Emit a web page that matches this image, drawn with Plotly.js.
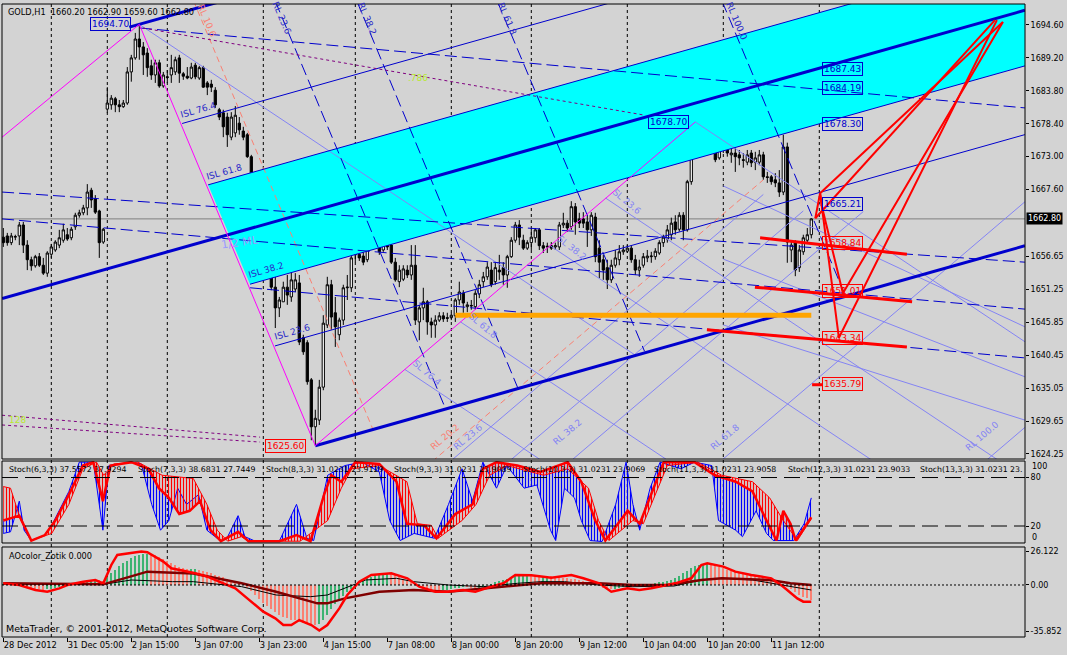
<!DOCTYPE html>
<html><head><meta charset="utf-8">
<script src="https://cdn.plot.ly/plotly-3.0.1.min.js"></script>
<style>html,body{margin:0;padding:0;background:#d3d3d3;}#chart{width:1067px;height:655px;}</style>
</head><body><div id="chart"></div>
<script>
// ---------- price data (GOLD H1), bar index 0..202 ----------
const open = [1659.8,1660.0,1658.9,1659.8,1660.0,1661.8,1658.5,1656.1,1655.1,1656.6,
1655.2,1653.9,1657.0,1657.7,1658.5,1659.3,1660.2,1659.7,1661.5,1663.4,
1663.8,1664.6,1667.5,1666.1,1664.1,1659.0,1680.8,1681.5,1682.5,1681.5,
1681.2,1681.8,1686.9,1689.2,1692.3,1691.0,1690.0,1687.9,1686.4,1688.4,
1684.6,1686.1,1686.4,1686.9,1689.2,1686.6,1686.2,1685.9,1688.0,1685.9,
1687.6,1685.1,1684.9,1683.9,1680.7,1680.2,1679.5,1676.2,1676.9,1678.5,
1677.2,1676.6,1673.0,1664.3,1664.6,1663.8,1663.3,1661.8,1651.6,1648.2,
1649.2,1651.6,1650.0,1651.3,1652.3,1643.3,1642.5,1636.4,1628.7,1629.8,
1635.2,1645.4,1652.0,1647.4,1643.8,1646.2,1651.5,1651.5,1656.9,1657.0,
1656.7,1656.1,1658.9,1661.3,1659.7,1657.7,1661.3,1658.5,1655.7,1652.5,
1652.9,1654.4,1653.6,1655.2,1645.9,1648.2,1649.2,1645.9,1645.4,1646.2,
1646.9,1646.6,1646.6,1646.9,1649.5,1650.6,1648.4,1648.5,1648.4,1650.5,
1652.5,1653.3,1654.4,1652.5,1654.4,1654.8,1653.6,1656.6,1659.3,1661.8,
1659.3,1658.0,1658.9,1659.7,1661.0,1658.4,1658.2,1658.4,1658.2,1658.2,
1661.8,1662.1,1661.5,1664.8,1662.8,1662.8,1662.3,1661.0,1663.1,1658.0,
1656.1,1654.8,1652.8,1655.2,1656.1,1657.4,1657.5,1658.0,1656.1,1654.4,
1655.2,1656.4,1656.6,1656.6,1657.2,1658.9,1659.5,1660.2,1662.3,1661.1,
1663.4,1661.0,1668.9,1674.6,1674.9,1676.2,1676.2,1677.9,1675.9,1672.8,
1674.9,1674.6,1673.3,1673.6,1673.3,1672.5,1672.1,1673.6,1672.1,1672.1,
1673.3,1669.7,1669.7,1669.2,1668.7,1667.2,1674.6,1657.7,1658.9,1654.8,
1657.4,1659.3,1660.2];
const high = [1661.3,1660.5,1660.5,1660.2,1662.3,1662.3,1659.3,1656.6,1656.9,1657.2,
1656.4,1657.5,1658.7,1659.3,1661.0,1662.0,1661.3,1661.5,1663.8,1664.3,
1665.1,1668.5,1667.9,1666.7,1664.3,1661.3,1684.4,1683.1,1682.8,1682.3,
1682.3,1687.7,1689.7,1693.3,1694.7,1691.8,1690.8,1688.9,1688.9,1688.9,
1686.9,1687.2,1689.7,1689.4,1689.7,1686.9,1687.7,1688.4,1688.4,1687.9,
1687.9,1685.4,1685.6,1684.4,1681.0,1680.7,1680.2,1680.3,1681.3,1679.5,
1677.9,1676.9,1673.3,1664.6,1664.9,1664.3,1663.9,1662.3,1653.6,1650.0,
1652.5,1653.6,1654.1,1653.9,1653.6,1643.8,1642.9,1636.7,1631.5,1636.4,
1647.0,1653.3,1652.8,1650.0,1646.6,1652.0,1653.6,1658.5,1657.7,1657.7,
1657.4,1660.7,1662.6,1662.6,1660.7,1661.8,1661.8,1659.0,1656.4,1655.2,
1655.2,1655.2,1658.5,1658.5,1648.7,1651.5,1649.5,1646.6,1647.0,1647.5,
1647.5,1647.4,1647.4,1649.8,1652.5,1651.1,1649.2,1649.5,1651.1,1652.8,
1654.1,1655.7,1655.7,1655.7,1656.9,1655.7,1656.9,1659.8,1662.3,1662.6,
1660.2,1659.3,1661.3,1661.3,1661.3,1659.0,1658.9,1659.0,1658.9,1662.3,
1663.8,1662.6,1665.7,1665.4,1663.8,1663.9,1663.4,1663.9,1663.8,1659.3,
1656.9,1656.1,1656.1,1657.7,1658.5,1658.5,1658.5,1658.5,1656.9,1656.1,
1657.2,1657.7,1657.4,1658.0,1659.3,1660.2,1661.8,1663.0,1663.4,1663.9,
1663.9,1669.2,1675.7,1678.7,1678.2,1678.2,1678.2,1678.4,1676.1,1676.1,
1675.7,1675.7,1674.4,1674.9,1674.1,1673.6,1674.1,1674.1,1673.8,1674.1,
1673.8,1670.5,1670.0,1670.3,1670.8,1676.6,1675.3,1659.3,1659.3,1658.5,
1660.2,1661.3,1662.9];
const low = [1658.2,1658.4,1658.5,1659.3,1658.5,1657.2,1654.4,1654.3,1654.8,1654.9,
1653.6,1653.3,1656.4,1657.4,1658.0,1658.9,1659.2,1659.3,1661.0,1663.0,
1663.4,1663.4,1664.6,1663.6,1656.4,1658.7,1680.2,1680.7,1680.3,1680.3,
1681.0,1681.5,1685.3,1688.9,1688.9,1686.4,1686.1,1685.6,1685.1,1684.3,
1684.3,1685.1,1685.1,1686.4,1685.1,1685.6,1685.7,1685.7,1685.7,1685.6,
1684.3,1683.1,1683.6,1681.0,1679.0,1676.2,1674.6,1675.7,1676.2,1676.6,
1675.7,1672.8,1661.3,1660.5,1663.0,1662.3,1661.3,1651.1,1644.9,1646.7,
1649.2,1648.7,1649.2,1650.8,1642.1,1640.5,1635.6,1626.5,1625.6,1629.0,
1634.7,1644.9,1644.6,1641.8,1642.9,1645.4,1649.5,1650.8,1655.7,1655.9,
1655.2,1655.7,1658.4,1658.5,1656.9,1657.4,1657.7,1655.4,1652.5,1651.6,
1652.6,1653.1,1652.8,1645.4,1642.9,1646.2,1643.8,1643.3,1643.3,1645.9,
1645.9,1645.9,1646.2,1645.9,1648.7,1647.4,1647.5,1647.9,1647.9,1649.8,
1651.6,1652.8,1651.6,1652.0,1652.8,1652.0,1651.5,1656.4,1658.9,1658.5,
1657.7,1657.7,1657.7,1658.9,1657.7,1657.2,1657.2,1657.7,1657.7,1657.7,
1661.3,1660.7,1661.0,1660.2,1661.3,1661.3,1658.2,1660.0,1655.7,1653.1,
1652.8,1651.3,1652.3,1654.8,1655.2,1656.9,1657.2,1655.6,1653.6,1653.3,
1654.8,1655.7,1655.6,1656.1,1656.9,1658.2,1658.9,1659.3,1660.2,1660.7,
1659.3,1660.7,1668.4,1674.1,1674.1,1675.7,1675.7,1674.9,1672.1,1672.5,
1673.6,1673.0,1672.0,1670.5,1671.6,1671.2,1671.6,1671.3,1670.8,1671.6,
1669.2,1668.7,1668.4,1668.0,1666.4,1666.7,1655.6,1655.7,1653.4,1654.1,
1656.9,1659.0,1659.6];
const close = [1658.9,1658.9,1660.0,1659.9,1661.8,1658.5,1656.1,1655.1,1656.6,1655.2,
1653.9,1657.2,1658.2,1659.0,1659.7,1661.0,1659.5,1661.1,1663.4,1663.8,
1664.6,1667.2,1665.9,1663.9,1658.9,1661.1,1681.8,1682.6,1681.5,1681.2,
1681.8,1686.9,1689.2,1692.3,1691.0,1689.7,1687.6,1686.4,1688.4,1684.6,
1686.4,1686.0,1687.6,1688.9,1686.7,1686.2,1685.9,1687.7,1686.1,1687.6,
1684.4,1684.4,1684.4,1681.5,1679.5,1677.9,1676.6,1679.5,1679.8,1677.4,
1676.2,1673.0,1664.3,1663.9,1663.4,1663.0,1661.8,1651.6,1648.2,1649.5,
1651.6,1650.3,1652.8,1652.8,1642.6,1641.0,1636.1,1628.7,1630.1,1635.2,
1645.7,1652.0,1646.7,1645.1,1646.2,1651.5,1651.6,1656.4,1657.0,1656.4,
1655.7,1658.9,1661.3,1659.7,1657.4,1661.0,1658.2,1655.7,1652.8,1654.4,
1654.6,1653.6,1655.2,1646.2,1648.2,1649.2,1645.9,1645.4,1646.2,1646.9,
1646.4,1646.5,1647.0,1649.5,1650.8,1649.0,1648.7,1648.6,1650.6,1652.0,
1653.3,1654.9,1652.0,1654.8,1654.1,1653.6,1656.6,1659.3,1661.8,1659.8,
1658.0,1658.9,1659.8,1661.0,1658.4,1658.0,1658.3,1658.0,1658.4,1661.8,
1662.1,1661.3,1664.8,1662.3,1662.1,1662.1,1661.0,1663.4,1656.6,1655.7,
1654.4,1652.8,1655.2,1656.4,1657.4,1657.7,1658.0,1656.1,1654.4,1654.9,
1656.6,1656.7,1656.7,1657.5,1658.9,1659.8,1661.0,1662.1,1661.0,1663.4,
1661.0,1668.9,1674.6,1676.6,1676.6,1676.6,1677.7,1675.4,1672.5,1675.3,
1674.1,1673.6,1673.6,1673.0,1672.8,1672.4,1673.3,1672.0,1672.8,1673.3,
1669.7,1669.6,1668.9,1668.7,1667.2,1674.6,1659.0,1658.5,1654.4,1657.7,
1659.7,1660.2,1662.8];

// ---------- axis labels ----------
const timeTickBars = [0,16,32,48,64,80,96,112,128,144,160,176,192];
const timeTickLabels = ['28 Dec 2012','31 Dec 05:00','2 Jan 15:00','3 Jan 07:00','3 Jan 23:00','4 Jan 15:00','7 Jan 08:00','8 Jan 00:00','8 Jan 20:00','9 Jan 12:00','10 Jan 04:00','10 Jan 20:00','11 Jan 12:00'];
const dayGridBars = [12,26,41,65,88,112,132,156,180,204];
const priceTicks = [1694.60,1689.20,1683.80,1678.40,1673.00,1667.60,1656.65,1651.25,1645.85,1640.45,1635.05,1629.65,1624.25];
const aoTicks = [26.122, 0, -35.852];
const aoTickLabels = ['26.122','0.00','-35.852'];

// ---------- drawn objects (bar index, price) ----------
const pitchfork = {
  median: [[-0.3,1649.75],[255.4,1697.01]],
  lower:  [[78,1625.6],[255.4,1658.39]],
  upper:  [[31.5,1694.24],[80,1703.2]]
};
const islLines = [
  [[44.7,1678.44],[160,1699.76]],
  [[51.2,1668.38],[255.4,1706.12]],
  [[61.7,1652.09],[255.4,1687.89]],
  [[67.9,1641.96],[255.4,1676.62]]
];
const cyanZone = [[51.2,1668.38],[255.4,1706.12],[255.4,1687.89],[61.7,1652.09]];
const magentaLines = [
  [[-0.3,1676.2],[34,1694.7]],
  [[34,1694.7],[78,1625.6]],
  [[78,1625.6],[173,1678.7]]
];
const purpleDotted = [
  [[34.9,1694.1],[160.4,1679.8]],
  [[-0.3,1630.6],[64.2,1627.0]],
  [[-0.3,1629.0],[64.2,1626.2]]
];
const orangeLevel = [[113,1647.0],[202,1647.0]];
const blueDashed = [
  [[34.2,1694.1],[255.4,1681.0]],
  [[-0.3,1667.2],[255.4,1655.7]],
  [[-0.3,1662.8],[255.4,1648.0]],
  [[61.7,1651.5],[255.4,1640.0]]
];
const steepRL = [
  [[68.0,1698.5],[110.6,1631.6]],
  [[88.4,1698.5],[128.8,1634.8]],
  [[123.5,1698.5],[160.3,1641.1]],
  [[179.7,1698.5],[210.5,1650.2]]
];
const salmonLines = [
  [[47.6,1698.5],[92.4,1628.3]],
  [[107.2,1623.0],[190,1669.2]]
];
const lavenderLines = [
  [[34,1694.7],[158.1,1640.4]],
  [[173,1678.7],[255.4,1642.65]],
  [[150.6,1666.2],[255.4,1620.3]],
  [[136.7,1658.4],[255.4,1606.5]],
  [[114.3,1645.9],[170,1621.5]],
  [[100.4,1638.1],[140,1620.8]],
  [[180,1668.2],[255.4,1645.1]],
  [[180,1656.2],[255.4,1636.9]],
  [[180,1645.4],[255.4,1629.8]],
  [[111.7,1623.0],[190,1666.8]],
  [[126.4,1623.0],[200,1664.1]],
  [[141.7,1623.0],[215,1664.0]],
  [[179.2,1623.0],[255.4,1665.6]],
  [[245.4,1623.0],[255.4,1628.6]]
];
const redLevels = [
  [[189.2,1659.7],[225.9,1657.0]],
  [[187.9,1651.6],[227.2,1649.2]],
  [[175.9,1644.6],[225.9,1641.8]],
  [[202.2,1635.6],[204.7,1635.6]]
];
const redZigzag = [
  [[203,1662.9],[247.9,1695.4]],
  [[204.2,1667.0],[208.9,1643.3],[248.4,1695.4]],
  [[204.7,1664.7],[209.9,1650.6],[249.9,1695.1]],
  [[204.2,1667.0],[249.9,1695.1]],
  [[203,1662.9],[204.2,1667.0],[204.7,1664.7]]
];
const blueBoxes = [[32.0,1694.70,'r'],[171.4,1678.70,'r'],[204.7,1687.43,'l'],[204.7,1684.19,'l'],[204.7,1678.30,'l'],[204.7,1665.21,'l']];
const redBoxes = [[75.7,1625.60,'r'],[204.7,1658.84,'l'],[204.7,1651.01,'l'],[204.7,1643.34,'l'],[204.7,1635.79,'l']];

// ---------- stochastic pane ----------
const stochFast = [[0,10.8],[1.8,12.8],[4,50.8],[5.2,14.8],[7,2],[10.4,8.8],[12.1,20.8],[16.4,62.8],[19,99],[22.5,99],[24.9,14.8],[26.4,94.8],[32,99],[34.5,96.8],[37.1,46.8],[39.3,14.8],[41.4,26.8],[43.6,66.8],[45.8,46.8],[48.8,58.8],[50.9,14.8],[54.4,1.2],[56.1,6.8],[58.7,32.8],[60.4,6.8],[63,1.2],[69,1.2],[73.3,46.8],[75.9,4.8],[77.6,2],[81.1,82.8],[85.4,94.8],[89.7,99],[94,86.8],[96.6,26.8],[99.2,2],[102.7,10.8],[107.8,4.8],[111.3,46.8],[114.7,90.8],[117.3,50.8],[119.9,99],[123.3,66.8],[125.9,94.8],[130.2,66.8],[133.4,70.8],[136.8,14.8],[138.1,2],[140.3,66.8],[142.8,54.8],[144.5,26.8],[146.7,2],[149.7,0.8],[153.1,46.8],[155.7,99],[157.4,46.8],[159.1,14.8],[161.7,66.8],[164.2,99],[169.4,90.8],[172.8,99],[177.1,94.8],[178.8,26.8],[183.1,14.8],[184.8,6.8],[188.2,38.8],[190.8,10.8],[192.5,2],[197.6,2],[200.2,22.8],[202,54.8]];
const stochMid = [[0,26.8],[4,32.8],[7,2],[10.4,8.8],[13,26.8],[16.4,58.8],[19.9,94.8],[22.5,99],[24.9,50.8],[26.8,94.8],[32,99],[36.3,90.8],[38.9,66.8],[41.4,54.8],[44,34.8],[46.6,38.8],[49.2,50.8],[51.8,14.8],[54.4,1.2],[58.7,12.8],[61.3,1.2],[69,1.2],[73.3,8.8],[76.8,1.2],[80.2,58.8],[82,82.8],[84.5,74.8],[88,99],[94,96.8],[98.3,74.8],[100.9,22.8],[105.2,20.8],[108.3,4.8],[113,34.8],[117.3,46.8],[119.9,90.8],[123.3,99],[128.5,94.8],[134.3,86.8],[138.5,94.8],[141.1,99],[144.5,74.8],[148,26.8],[150.5,2],[156.1,38.8],[159.1,22.8],[165.1,99],[172.8,99],[177.9,82.8],[183.1,74.8],[187.3,62.8],[190.8,26.8],[193.3,2],[195,38.8],[196.8,22.8],[198.1,2],[202,30.8]];
const stochSlow = [[0,68.8],[1.8,66.8],[4.4,26.8],[7,2],[12.1,10.8],[16.4,46.8],[19.9,90.8],[23.3,99],[25.1,82.8],[27.6,96.8],[33.7,99],[39.7,82.8],[47.5,78.8],[50.9,46.8],[53.5,14.8],[56.1,1.2],[59.5,6.8],[61.3,1.2],[74.2,1.2],[81.1,26.8],[84.5,66.8],[87.1,90.8],[94,94.8],[100.9,74.8],[103.5,22.8],[107,20.8],[108.7,4.8],[114.7,26.8],[118.2,46.8],[121.6,82.8],[125.9,94.8],[135.1,82.8],[141.1,90.8],[146.3,66.8],[148.8,26.8],[151.4,2],[157.4,26.8],[160,22.8],[166,94.8],[173.6,99],[179.6,82.8],[187.3,74.8],[191.6,54.8],[195,26.8],[198.5,2],[202,28.8]];
const stochLevels = [80, 20];
const stochHeaders = [
  [7,'Stoch(6,3,3) 37.5572 37.9294'],[136,'Stoch(7,3,3) 38.6831 27.7449'],[264,'Stoch(8,3,3) 31.0231 23.9129'],
  [392,'Stoch(9,3,3) 31.0231 23.9089'],[521,'Stoch(10,3,3) 31.0231 23.9069'],[652,'Stoch(11,3,3) 31.0231 23.9058'],
  [786,'Stoch(12,3,3) 31.0231 23.9033'],[918,'Stoch(13,3,3) 31.0231 23.']];

// ---------- AO pane ----------
const aoHist = [0.5,0.3,0.0,-0.5,-1.0,-1.8,-2.5,-3.0,-3.3,-3.5,
-3.6,-3.4,-3.0,-2.5,-1.8,-1.0,-0.3,0.5,1.2,2.0,
2.8,3.5,4.0,4.2,3.8,3.2,6.0,9.0,12.0,14.5,
17.0,19.0,21.0,22.5,23.5,24.0,24.3,24.0,23.0,21.5,
20.0,18.5,17.0,15.5,14.0,13.0,12.2,12.5,12.8,12.0,
11.0,10.0,9.0,8.0,7.0,6.0,5.0,4.0,3.0,1.5,
0.0,-2.0,-5.0,-8.0,-11.0,-14.0,-16.5,-19.0,-21.0,-23.0,
-25.0,-26.0,-27.0,-27.5,-28.5,-29.5,-30.5,-31.0,-31.5,-30.0,
-27.0,-23.0,-19.0,-15.0,-11.5,-8.5,-5.5,-3.0,-0.5,2.0,
4.0,5.5,6.5,7.5,8.0,8.3,8.5,8.2,7.5,6.5,
5.0,3.5,2.0,0.5,-1.0,-2.5,-3.5,-4.0,-4.3,-4.5,
-4.2,-3.8,-3.3,-2.5,-2.0,-1.5,-1.8,-2.2,-2.5,-2.0,
-1.2,0.0,1.0,2.0,3.0,4.0,5.0,6.0,6.8,7.3,
7.6,7.8,7.5,7.0,6.6,6.8,7.2,7.0,6.5,6.0,
5.5,5.2,4.8,4.3,3.8,3.2,2.5,1.5,0.5,-0.8,
-2.0,-3.0,-3.5,-3.2,-2.5,-1.8,-1.2,-0.8,-0.5,-0.3,
0.0,0.5,1.0,1.5,2.0,2.5,3.0,4.0,5.5,7.0,
9.0,11.0,13.0,14.5,15.5,16.0,16.2,15.8,15.0,14.0,
13.0,12.0,11.0,10.0,9.0,8.5,8.0,7.5,7.0,6.5,
5.5,4.5,3.5,2.5,1.5,0.5,-1.5,-3.5,-5.5,-7.5,
-9.0,-10.5,-11.5];
const aoRed = [[0,1.3],[4,0],[8,-3.9],[11,-5.2],[14,-2.6],[16,0],[20,2.6],[23,3.9],[25,1.3],[27,15.6],[28.5,23.4],[32,24.7],[34.5,26],[36,25.5],[40,18.2],[42,13],[46,10.4],[48,9.1],[51,6.5],[54,2.6],[58,-2.6],[61,-10.4],[65,-20.8],[68,-26],[70,-31.2],[72,-31.2],[74,-27.3],[77,-31.2],[79,-35.5],[81,-31.2],[84,-18.2],[86,-7.8],[89,2.6],[92,7.8],[97,9.1],[101,5.2],[104,-1.3],[108,-5.2],[111,-5.2],[115,-3.9],[118,-5.2],[122,-1.3],[125,1.3],[128,7.8],[132,7.5],[137,5.7],[142,7.8],[145,5.2],[149,1.3],[152,-5.2],[156,-2.6],[159,-3.9],[162,-2.6],[168,1.3],[172,5.2],[174.5,15.6],[176,16.9],[180,14.3],[183,10.4],[187,7.8],[192,5.2],[195,-1.3],[198.5,-10.4],[200,-13],[202,-13]];
const aoMaroon = [[0,1.3],[25,0.5],[30,5],[36,10.4],[47.5,9],[59.6,1.3],[68.2,-5.2],[78.5,-14.3],[81,-14.3],[85.4,-10.4],[94,-5.2],[102.6,-3.9],[111.3,-5.2],[120,-2.6],[128.5,0],[134.4,1.3],[148.8,1.3],[157.4,0],[166,0],[174.5,3.9],[179.6,5.2],[191.6,3.9],[196.8,1.3],[202,0]];
const aoBlack = [[0,0.5],[25,0.5],[32,3.9],[42.3,2.6],[47.5,2.6],[59.6,-1.3],[68.2,-7.8],[76.8,-9.1],[81,-7.8],[85.4,-2.6],[90.6,3.9],[98.3,5.2],[102.6,2.6],[111.3,0],[120,-1.3],[128.5,1.3],[134.4,2.6],[140.3,2.6],[148.8,0],[157.4,-1.3],[167.7,-0.8],[174.5,3.9],[179.6,5.2],[187.3,3.9],[195,0],[202,-3.9]];

// ---------- build ----------
const barIndex = open.map((_, k) => k);
const xs = pts => pts.map(p => p[0]);
const ys = pts => pts.map(p => p[1]);
const traces = [];
function line(pts, color, width, dash, yaxis) {
  traces.push({type:'scatter', mode:'lines', x:xs(pts), y:ys(pts), yaxis:yaxis||'y',
    line:{color:color, width:width, dash:dash||'solid'}, hoverinfo:'skip'});
}
const BLUE = '#0000cd', LAV = '#8484f4', SALMON = '#fa8072', MAG = '#ff00ff', RED = '#ff0000';

traces.push({type:'scatter', mode:'lines', x:xs(cyanZone).concat([cyanZone[0][0]]), y:ys(cyanZone).concat([cyanZone[0][1]]),
  fill:'toself', fillcolor:'#00ffff', line:{width:0}, hoverinfo:'skip'});
traces.push({type:'candlestick', x:barIndex, open:open, high:high, low:low, close:close,
  increasing:{line:{color:'#000', width:1}, fillcolor:'#ffffff'},
  decreasing:{line:{color:'#000', width:1}, fillcolor:'#000000'},
  whiskerwidth:0, hoverinfo:'skip'});
lavenderLines.forEach(p => line(p, LAV, 1));
salmonLines.forEach(p => line(p, SALMON, 1, '6px,4px'));
steepRL.forEach(p => line(p, BLUE, 1, '12px,5px'));
blueDashed.forEach(p => line(p, BLUE, 1, '12px,5px'));
islLines.forEach(p => line(p, BLUE, 1));
line(pitchfork.median, BLUE, 3); line(pitchfork.lower, BLUE, 3); line(pitchfork.upper, BLUE, 3);
magentaLines.forEach(p => line(p, MAG, 1));
purpleDotted.forEach(p => line(p, '#800080', 1, '3px,3px'));
line(orangeLevel, '#ffa500', 5);
redLevels.forEach(p => line(p, RED, 3));
redZigzag.forEach(p => line(p, RED, 2));

traces.push({type:'scatter', mode:'lines', x:xs(stochFast), y:ys(stochFast), yaxis:'y2', line:{color:'#0000ff', width:1}, hoverinfo:'skip'});
traces.push({type:'scatter', mode:'lines', x:xs(stochMid), y:ys(stochMid), yaxis:'y2', line:{color:RED, width:2.5},
  fill:'tonexty', fillcolor:'rgba(0,0,0,0)', fillpattern:{shape:'|', fgcolor:'#0000ff', bgcolor:'rgba(0,0,0,0)', size:3, solidity:0.4}, hoverinfo:'skip'});
traces.push({type:'scatter', mode:'lines', x:xs(stochSlow), y:ys(stochSlow), yaxis:'y2', line:{color:RED, width:1},
  fill:'tonexty', fillcolor:'rgba(0,0,0,0)', fillpattern:{shape:'|', fgcolor:RED, bgcolor:'rgba(0,0,0,0)', size:3, solidity:0.4}, hoverinfo:'skip'});

const aoColors = aoHist.map((v, k) => (k > 0 && v < aoHist[k-1]) ? '#fa8072' : '#3cb371');
traces.push({type:'bar', x:barIndex, y:aoHist, yaxis:'y3', width:0.55, marker:{color:aoColors, line:{width:0}}, hoverinfo:'skip'});
line(aoBlack, '#000000', 1, 'solid', 'y3');
line(aoMaroon, '#800000', 2.5, 'solid', 'y3');
line(aoRed, RED, 2.5, 'solid', 'y3');

// ---------- layout ----------
const FONT = 'DejaVu Sans, Verdana, sans-serif';
const annotations = [];
function txt(x, y, text, opts) {
  annotations.push(Object.assign({x:x, y:y, xref:'x', yref:'y', text:text, showarrow:false,
    font:{family:FONT, size:9, color:'#000'}}, opts||{}));
}
annotations.push({xref:'paper', yref:'paper', x:0, y:1, xanchor:'left', yanchor:'top', xshift:4, yshift:-1, showarrow:false,
  text:'GOLD,H1  1660.20 1662.90 1659.60 1662.80', font:{family:FONT, size:8.2, color:'#000'}});
stochHeaders.forEach(h => annotations.push({xref:'paper', yref:'y2', x:(h[0]-2)/1023, y:100, xanchor:'left', yanchor:'top', yshift:-2, showarrow:false,
  text:h[1], font:{family:FONT, size:7.8, color:'#000'}}));
annotations.push({xref:'paper', yref:'y3', x:(7-2)/1023, y:29.6, xanchor:'left', yanchor:'top', yshift:-2, showarrow:false,
  text:'AOcolor_Zotik 0.000', font:{family:FONT, size:8.2, color:'#000'}});
annotations.push({xref:'paper', yref:'y3', x:(4-2)/1023, y:-40.5, xanchor:'left', yanchor:'bottom', yshift:1, showarrow:false,
  text:'MetaTrader, © 2001-2012, MetaQuotes Software Corp.', font:{family:FONT, size:9.5, color:'#000'}});
annotations.push({xref:'paper', yref:'y', x:1, y:close[close.length-1], xanchor:'left', xshift:1, showarrow:false,
  text:close[close.length-1].toFixed(2), bgcolor:'#000', borderpad:1, font:{family:FONT, size:8, color:'#fff'}});
annotations.push({xref:'paper', yref:'y2', x:1, y:100, xanchor:'left', xshift:5, yshift:-5, showarrow:false, text:'100', font:{family:FONT, size:8, color:'#000'}});
annotations.push({xref:'paper', yref:'y2', x:1, y:0, xanchor:'left', xshift:5, yshift:5, showarrow:false, text:'0', font:{family:FONT, size:8, color:'#000'}});
blueBoxes.forEach(b => txt(b[0], b[1], b[1].toFixed(2), {xanchor: b[2]==='r'?'right':'left', bordercolor:BLUE, borderwidth:1, borderpad:1, font:{family:FONT, size:9, color:BLUE}}));
redBoxes.forEach(b => txt(b[0], b[1], b[1].toFixed(2), {xanchor: b[2]==='r'?'right':'left', bordercolor:RED, borderwidth:1, borderpad:1, font:{family:FONT, size:9, color:RED}}));
const LBL = '#2828c8';
txt(48.7,1680.7,'ISL 76.4',{textangle:-16, font:{family:FONT,size:9,color:LBL}});
txt(55.2,1670.5,'ISL 61.8',{textangle:-16, font:{family:FONT,size:9,color:LBL}});
txt(65.7,1654.4,'ISL 38.2',{textangle:-16, font:{family:FONT,size:9,color:LBL}});
txt(72.2,1644.3,'ISL 23.6',{textangle:-16, font:{family:FONT,size:9,color:LBL}});
txt(59.2,1659.0,'1/2 ML',{textangle:-8, font:{family:FONT,size:11,color:'#9a9aff'}});
txt(51,1695.3,'RL 10.6',{textangle:67, font:{family:FONT,size:9,color:SALMON}});
txt(69.7,1695.8,'RL 23.6',{textangle:67, font:{family:FONT,size:9,color:LBL}});
txt(91,1695.6,'RL 38.2',{textangle:67, font:{family:FONT,size:9,color:LBL}});
txt(126,1695.6,'RL 61.8',{textangle:67, font:{family:FONT,size:9,color:LBL}});
txt(183.4,1695.3,'RL 100.0',{textangle:67, font:{family:FONT,size:9,color:LBL}});
txt(156,1665.6,'SL 23.6',{textangle:40, font:{family:FONT,size:9,color:LAV}});
txt(142.2,1658.0,'SL 38.2',{textangle:38, font:{family:FONT,size:9,color:LAV}});
txt(120,1645.2,'SL 61.8',{textangle:40, font:{family:FONT,size:9,color:LAV}});
txt(106,1637.5,'SL 76.4',{textangle:40, font:{family:FONT,size:9,color:LAV}});
txt(110.4,1627.0,'RL 20.2',{textangle:-40, font:{family:FONT,size:9,color:SALMON}});
txt(116.2,1627.0,'RL 23.6',{textangle:-40, font:{family:FONT,size:9,color:LAV}});
txt(141,1627.9,'RL 38.2',{textangle:-40, font:{family:FONT,size:9,color:LAV}});
txt(180.4,1627.0,'RL 61.8',{textangle:-40, font:{family:FONT,size:9,color:LAV}});
txt(244.7,1627.2,'RL 100.0',{textangle:-40, font:{family:FONT,size:9,color:LAV}});
txt(103.7,1685.9,'.786',{font:{family:FONT,size:9,color:'#b8e830'}});
txt(3.5,1629.8,'128',{font:{family:FONT,size:9,color:'#b8e830'}});

const shapes = [];
dayGridBars.forEach(b => shapes.push({type:'line', xref:'x', yref:'paper', x0:b, x1:b, y0:0, y1:1, layer:'below',
  line:{color:'#000', width:1, dash:'3px,3px'}}));
shapes.push({type:'line', xref:'paper', yref:'y', x0:0, x1:1, y0:close[close.length-1], y1:close[close.length-1], layer:'below', line:{color:'#808080', width:1}});
stochLevels.forEach(v => shapes.push({type:'line', xref:'paper', yref:'y2', x0:0, x1:1, y0:v, y1:v, line:{color:'#000', width:1, dash:'16px,7px'}}));
shapes.push({type:'line', xref:'paper', yref:'y3', x0:0, x1:1, y0:0, y1:0, line:{color:'#000', width:1, dash:'2px,2px'}});
[[0.2812,1],[0.1485,0.278],[0,0.1422]].forEach(d => shapes.push({type:'rect', xref:'paper', yref:'paper', x0:0, x1:1, y0:d[0], y1:d[1],
  line:{color:'#000', width:1}, fillcolor:'rgba(0,0,0,0)'}));

const tickFont = {family:FONT, size:8, color:'#000'};
const layout = {
  width:1067, height:655, margin:{l:2, r:42, t:4, b:18},
  paper_bgcolor:'#d3d3d3', plot_bgcolor:'#d3d3d3', showlegend:false, boxgap:0.2,
  xaxis:{range:[-0.325,255.425], anchor:'y3', tickmode:'array', tickvals:timeTickBars, ticktext:timeTickLabels, tickangle:0,
    ticks:'outside', ticklen:4, tickcolor:'#000', ticklabelposition:'outside right', tickfont:{family:FONT, size:8.3, color:'#000'},
    showgrid:false, zeroline:false, showline:false, rangeslider:{visible:false}, fixedrange:true, automargin:false},
  yaxis:{domain:[0.2812,1], range:[1623.42,1698.04], side:'right', anchor:'x', tickmode:'array', tickvals:priceTicks,
    ticktext:priceTicks.map(v=>v.toFixed(2)), ticks:'outside', ticklen:3, tickcolor:'#000', tickfont:tickFont,
    showgrid:false, zeroline:false, fixedrange:true},
  yaxis2:{domain:[0.1485,0.278], range:[-1.03,100.4], side:'right', anchor:'x', tickmode:'array', tickvals:stochLevels,
    ticktext:stochLevels.map(String), ticks:'outside', ticklen:3, tickcolor:'#000', tickfont:tickFont,
    showgrid:false, zeroline:false, fixedrange:true},
  yaxis3:{domain:[0,0.1422], range:[-40.5,29.6], side:'right', anchor:'x', tickmode:'array', tickvals:aoTicks,
    ticktext:aoTickLabels, ticks:'outside', ticklen:3, tickcolor:'#000', tickfont:tickFont,
    showgrid:false, zeroline:false, fixedrange:true},
  shapes:shapes, annotations:annotations, bargap:0
};
Plotly.newPlot('chart', traces, layout, {displayModeBar:false, staticPlot:true});
</script></body></html>
